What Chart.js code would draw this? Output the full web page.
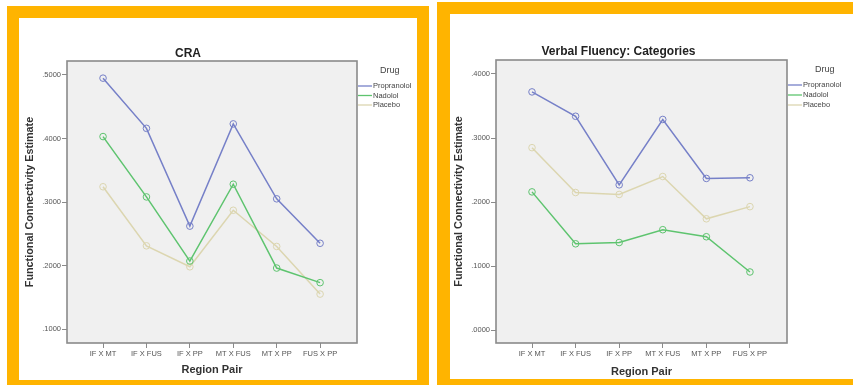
<!DOCTYPE html>
<html>
<head>
<meta charset="utf-8">
<script src="https://cdn.jsdelivr.net/npm/chart.js@4.4.1/dist/chart.umd.min.js"></script>
<style>
  body { margin: 0; background: #fff; width: 853px; height: 385px; overflow: hidden; position: relative; }
  .frame { position: absolute; background: #ffb400; }
  .sheet { position: absolute; background: #fff; }
  canvas { display: block; }
</style>
</head>
<body>
<div class="frame" style="left:7px;top:6px;width:422px;height:379px;"></div>
<div class="sheet" style="left:19px;top:18px;width:398px;height:362px;">
  <canvas id="cra-chart" width="398" height="362"></canvas>
</div>
<div class="frame" style="left:437px;top:2px;width:416px;height:383px;"></div>
<div class="sheet" style="left:450px;top:14px;width:403px;height:365px;">
  <canvas id="vf-chart" width="403" height="365"></canvas>
</div>
<script>
// Region pairs on the x axis and drug groups
const regionPairs = ['IF X MT', 'IF X FUS', 'IF X PP', 'MT X FUS', 'MT X PP', 'FUS X PP'];
const drugs = ['Propranolol', 'Nadolol', 'Placebo'];

// CRA estimates
const craPropranolol = [0.495, 0.416, 0.262, 0.423, 0.305, 0.235];
const craNadolol = [0.403, 0.308, 0.207, 0.328, 0.196, 0.173];
const craPlacebo = [0.324, 0.231, 0.198, 0.287, 0.230, 0.155];
const craTicks = [0.1, 0.2, 0.3, 0.4, 0.5];

// Verbal fluency (categories) estimates
const vfPropranolol = [0.372, 0.334, 0.227, 0.329, 0.237, 0.238];
const vfNadolol = [0.216, 0.135, 0.137, 0.157, 0.146, 0.091];
const vfPlacebo = [0.285, 0.215, 0.212, 0.240, 0.174, 0.193];
const vfTicks = [0.0, 0.1, 0.2, 0.3, 0.4];

const drugColors = ['#7680c8', '#5ec46f', '#dcd6b0'];
const FONT = 'Arial, "Liberation Sans", sans-serif';

// Grey plot box with a light fill behind the lines
const plotBox = {
    id: 'plotBox',
    beforeDraw(chart) {
        const a = chart.chartArea;
        const ctx = chart.ctx;
        ctx.save();
        ctx.fillStyle = '#f0f0f0';
        ctx.fillRect(a.left, a.top, a.right - a.left, a.bottom - a.top);
        ctx.restore();
    },
    afterDraw(chart) {
        const a = chart.chartArea;
        const ctx = chart.ctx;
        ctx.save();
        ctx.strokeStyle = '#8a8a8a';
        ctx.lineWidth = 1.6;
        ctx.strokeRect(a.left, a.top, a.right - a.left, a.bottom - a.top);
        ctx.restore();
    }
};

// Small legend to the right of the box, titled "Drug"
const drugLegend = {
    id: 'drugLegend',
    afterDraw(chart, args, opts) {
        const ctx = chart.ctx;
        const x = chart.chartArea.right + 1;
        ctx.save();
        ctx.fillStyle = '#444';
        ctx.font = '9px ' + FONT;
        ctx.textBaseline = 'middle';
        ctx.textAlign = 'left';
        ctx.fillText('Drug', x + opts.titleX, opts.titleY);
        ctx.font = '7.5px ' + FONT;
        chart.data.datasets.forEach((ds, i) => {
            const y = opts.rowY + i * opts.rowGap;
            ctx.strokeStyle = ds.borderColor;
            ctx.lineWidth = 1.3;
            ctx.beginPath();
            ctx.moveTo(x, y);
            ctx.lineTo(x + 14, y);
            ctx.stroke();
            ctx.fillStyle = '#444';
            ctx.fillText(ds.label, x + 15, y);
        });
        ctx.restore();
    }
};

function makeDatasets(seriesList) {
    return seriesList.map((values, i) => ({
        label: drugs[i],
        data: values.map((v, j) => ({ x: j, y: v })),
        borderColor: drugColors[i],
        backgroundColor: 'transparent',
        borderWidth: 1.5,
        pointRadius: 3.3,
        pointBorderWidth: 1,
        pointBackgroundColor: 'rgba(255,255,255,0)',
        tension: 0
    }));
}

function formatTick(value) {
    return value.toFixed(4).replace(/^0/, '');
}

function buildChart(canvasId, cfg) {
    const ctx = document.getElementById(canvasId).getContext('2d');
    return new Chart(ctx, {
        type: 'line',
        data: { datasets: makeDatasets(cfg.series) },
        options: {
            responsive: false,
            animation: false,
            layout: { padding: { left: 0, right: cfg.rightPad, top: 0, bottom: 0 } },
            scales: {
                x: {
                    type: 'linear',
                    min: cfg.xMin,
                    max: cfg.xMax,
                    afterBuildTicks: (scale) => {
                        scale.ticks = regionPairs.map((_, i) => ({ value: i }));
                    },
                    afterFit: (scale) => { scale.height = cfg.xAxisHeight; },
                    grid: { drawOnChartArea: false, drawTicks: true, tickLength: 5, color: '#8a8a8a' },
                    border: { display: false },
                    ticks: {
                        autoSkip: false,
                        maxRotation: 0,
                        padding: 1,
                        color: '#555',
                        font: { family: FONT, size: 7.5 },
                        callback: (value) => regionPairs[value]
                    },
                    title: {
                        display: true,
                        text: 'Region Pair',
                        color: '#333',
                        font: { family: FONT, size: 11, weight: 'bold' },
                        padding: { top: 0, bottom: cfg.xTitlePad }
                    }
                },
                y: {
                    min: cfg.yMin,
                    max: cfg.yMax,
                    afterBuildTicks: (scale) => {
                        scale.ticks = cfg.ticks.map(v => ({ value: v }));
                    },
                    afterFit: (scale) => { scale.width = cfg.yAxisWidth; },
                    grid: { drawOnChartArea: false, drawTicks: true, tickLength: 5, color: '#8a8a8a' },
                    border: { display: false },
                    ticks: {
                        padding: 1,
                        color: '#555',
                        font: { family: FONT, size: 7.5 },
                        callback: (value) => formatTick(value)
                    },
                    title: {
                        display: true,
                        text: 'Functional Connectivity Estimate',
                        color: '#333',
                        font: { family: FONT, size: 10.8, weight: 'bold' },
                        padding: { top: cfg.yTitlePad, bottom: 0 }
                    }
                }
            },
            plugins: {
                legend: { display: false },
                tooltip: { enabled: false },
                title: {
                    display: true,
                    text: cfg.title,
                    color: '#222',
                    font: { family: FONT, size: 12, weight: 'bold' },
                    padding: { top: cfg.titleTop, bottom: cfg.titleBottom }
                },
                drugLegend: cfg.legend
            }
        },
        plugins: [plotBox, drugLegend]
    });
}

buildChart('cra-chart', {
    title: 'CRA',
    series: [craPropranolol, craNadolol, craPlacebo],
    ticks: craTicks,
    yMin: 0.078, yMax: 0.522,
    xMin: -0.83, xMax: 5.85,
    rightPad: 60,
    xAxisHeight: 37,
    yAxisWidth: 48,
    xTitlePad: 3.4,
    yTitlePad: 4.5,
    titleTop: 28, titleBottom: 0.6,
    legend: { titleX: 22, titleY: 53, rowY: 68, rowGap: 9.5 }
});

buildChart('vf-chart', {
    title: 'Verbal Fluency: Categories',
    series: [vfPropranolol, vfNadolol, vfPlacebo],
    ticks: vfTicks,
    yMin: -0.0198, yMax: 0.4218,
    xMin: -0.826, xMax: 5.85,
    rightPad: 66,
    xAxisHeight: 36,
    yAxisWidth: 46,
    xTitlePad: 0.4,
    yTitlePad: 2.5,
    titleTop: 30.8, titleBottom: 0.8,
    legend: { titleX: 27, titleY: 56, rowY: 71, rowGap: 10 }
});
</script>
</body>
</html>
